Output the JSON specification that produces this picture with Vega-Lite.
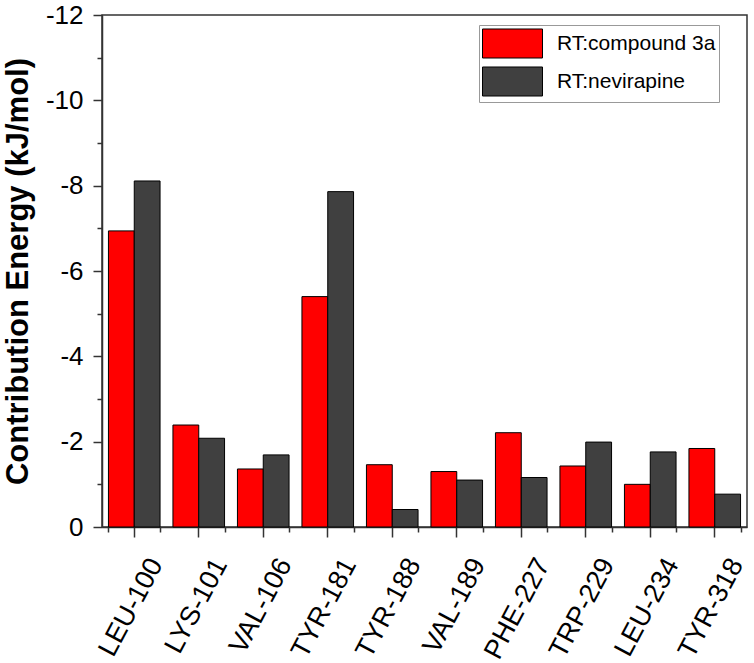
{
  "$schema": "https://vega.github.io/schema/vega-lite/v6.json",
  "width": 645,
  "height": 512,
  "autosize": {"type": "none"},
  "padding": {"left": 102, "top": 15, "right": 7, "bottom": 136},
  "background": "white",
  "config": {
    "font": "Liberation Sans",
    "view": {"stroke": "#333333", "strokeWidth": 1.5}
  },
  "data": {
    "values": [
      {"residue": "LEU-100", "series": "RT:compound 3a", "energy": -6.94},
      {"residue": "LEU-100", "series": "RT:nevirapine", "energy": -8.11},
      {"residue": "LYS-101", "series": "RT:compound 3a", "energy": -2.39},
      {"residue": "LYS-101", "series": "RT:nevirapine", "energy": -2.08},
      {"residue": "VAL-106", "series": "RT:compound 3a", "energy": -1.36},
      {"residue": "VAL-106", "series": "RT:nevirapine", "energy": -1.69},
      {"residue": "TYR-181", "series": "RT:compound 3a", "energy": -5.40},
      {"residue": "TYR-181", "series": "RT:nevirapine", "energy": -7.86},
      {"residue": "TYR-188", "series": "RT:compound 3a", "energy": -1.46},
      {"residue": "TYR-188", "series": "RT:nevirapine", "energy": -0.41},
      {"residue": "VAL-189", "series": "RT:compound 3a", "energy": -1.30},
      {"residue": "VAL-189", "series": "RT:nevirapine", "energy": -1.10},
      {"residue": "PHE-227", "series": "RT:compound 3a", "energy": -2.21},
      {"residue": "PHE-227", "series": "RT:nevirapine", "energy": -1.16},
      {"residue": "TRP-229", "series": "RT:compound 3a", "energy": -1.43},
      {"residue": "TRP-229", "series": "RT:nevirapine", "energy": -1.99},
      {"residue": "LEU-234", "series": "RT:compound 3a", "energy": -1.00},
      {"residue": "LEU-234", "series": "RT:nevirapine", "energy": -1.76},
      {"residue": "TYR-318", "series": "RT:compound 3a", "energy": -1.84},
      {"residue": "TYR-318", "series": "RT:nevirapine", "energy": -0.77}
    ]
  },
  "layer": [
    {
      "mark": {"type": "bar", "stroke": "black", "strokeWidth": 1},
      "encoding": {
        "x": {
          "field": "residue", "type": "nominal", "sort": null,
          "scale": {"paddingInner": 0.2, "paddingOuter": 0.1},
          "axis": {
            "orient": "bottom", "title": null,
            "labelAngle": -62, "labelAlign": "right", "labelBaseline": "middle",
            "labelFontSize": 27, "labelOffset": 22, "labelPadding": 23,
            "labelColor": "black", "labelOverlap": false, "labelBound": false, "labelFlush": false,
            "tickSize": 10, "tickWidth": 1.5, "tickColor": "#333333",
            "domainColor": "#333333", "domainWidth": 1.5
          }
        },
        "xOffset": {"field": "series", "sort": null},
        "y": {
          "field": "energy", "type": "quantitative",
          "scale": {"domain": [-12, 0], "reverse": true, "nice": false},
          "axis": {
            "orient": "left",
            "values": [-12, -10, -8, -6, -4, -2, 0],
            "labelExpr": "toString(datum.value)",
            "labelFontSize": 26, "labelColor": "black", "labelPadding": 10,
            "tickSize": 9, "tickWidth": 1.5, "tickColor": "#333333",
            "domainColor": "#333333", "domainWidth": 1.5, "grid": false,
            "title": "Contribution Energy (kJ/mol)",
            "titleFontSize": 31, "titleFontWeight": "bold", "titleColor": "black", "titlePadding": 11
          }
        },
        "color": {
          "field": "series", "type": "nominal", "sort": null,
          "scale": {"range": ["#ff0000", "#404040"]},
          "legend": {
            "title": null, "orient": "none", "legendX": 377, "legendY": 10,
            "symbolType": "M-1,-0.967H3V0.967H-1Z", "symbolSize": 900,
            "symbolStrokeColor": "black", "symbolStrokeWidth": 1, "symbolOpacity": 1,
            "labelFontSize": 21, "labelOffset": 44, "labelLimit": 300, "labelColor": "black",
            "rowPadding": 3, "padding": 3, "strokeColor": "#999999", "fillColor": "white"
          }
        }
      }
    },
    {
      "mark": {"type": "bar", "opacity": 0},
      "encoding": {
        "x": {
          "field": "residue", "type": "nominal", "sort": null,
          "axis": {
            "orient": "bottom", "title": null, "labels": false, "domain": false,
            "tickBand": "extent", "tickSize": 5, "tickWidth": 1.5, "tickColor": "#333333"
          }
        },
        "y": {
          "field": "energy", "type": "quantitative",
          "axis": {
            "orient": "left", "title": null, "labels": false, "domain": false, "grid": false,
            "values": [-11, -9, -7, -5, -3, -1],
            "tickSize": 5, "tickWidth": 1.5, "tickColor": "#333333"
          }
        }
      }
    }
  ],
  "resolve": {"axis": {"x": "independent", "y": "independent"}}
}
